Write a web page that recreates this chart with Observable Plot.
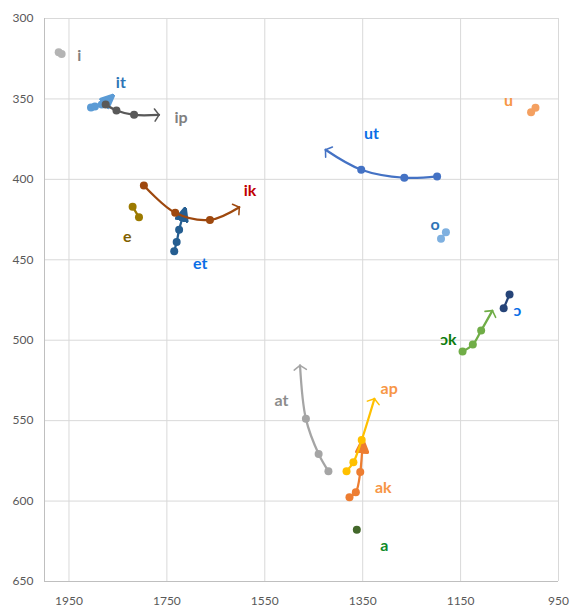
<!DOCTYPE html>
<html>
<head>
<meta charset="utf-8">
<script src="https://cdn.jsdelivr.net/npm/d3@7"></script>
<script src="https://cdn.jsdelivr.net/npm/@observablehq/plot@0.6"></script>
<style>
  html, body { margin: 0; padding: 0; background: #fff; }
  #chart { width: 571px; height: 608px; }
</style>
</head>
<body>
<div id="chart"></div>
<script>
// Axis ticks
const xTicks = [1950, 1750, 1550, 1350, 1150, 950];
const yTicks = [300, 350, 400, 450, 500, 550, 600, 650];

// Series: [F2, F1] points; last point of arrowed series is the arrow tip
const i  = [[1971, 321], [1965, 322]];
const it = [[1905, 355.3], [1897, 354.7], [1883, 353.5], [1860, 348]];
const ip = [[1875, 353.5], [1853, 357.2], [1817, 359.9], [1766, 359.9]];
const ik = [[1797, 403.8], [1733, 420.8], [1662, 425.2], [1602, 417.3]];
const e  = [[1820, 417], [1807, 423.6]];
const et = [[1735, 444.7], [1730, 439], [1725, 431.4], [1713, 418.3]];
const ut = [[1198, 398.2], [1265, 399], [1353, 394], [1426, 381.6]];
const o  = [[1180, 432.9], [1190, 437]];
const u  = [[997, 355.5], [1006, 358.3]];
const oo = [[1050, 471.6], [1062, 480.1]];
const ok = [[1146, 507], [1125, 502.7], [1108, 494], [1085, 481.6]];
const at = [[1420, 581.4], [1440, 570.7], [1466, 548.9], [1478, 515.7]];
const ak = [[1377, 597.6], [1364, 594.5], [1355, 582], [1350, 562.4]];
const ap = [[1383, 581.4], [1369, 575.9], [1352, 562], [1326, 536.4]];
const a  = [[1362, 617.8]];

// Vowel labels
const labelText = ["i", "it", "ip", "ik", "e", "et", "ut", "o", "u", "ɔ", "ɔk", "at", "ap", "ak", "a"];
const labelF2   = [1929, 1844, 1721, 1580, 1831, 1682, 1332, 1202, 1052, 1034, 1175, 1516, 1296, 1308, 1306];
const labelF1   = [323, 339.8, 361.6, 407, 435.6, 452.4, 372, 428, 351, 482, 499.6, 537.6, 530, 591.7, 627.8];
const labelColor = ["#7f7f7f", "#2e75b6", "#808080", "#c00000", "#7f6000", "#0a6ee6", "#0a6ee6", "#2e75b6",
                    "#f79646", "#0a6ee6", "#0e7c0e", "#8c8c8c", "#f79646", "#f79646", "#0e8a2a"];

const SVGNS = "http://www.w3.org/2000/svg";
function filledArrow(color) {
  const m = document.createElementNS(SVGNS, "marker");
  m.setAttribute("viewBox", "-9 -5 10 10");
  m.setAttribute("markerWidth", 6.4);
  m.setAttribute("markerHeight", 6.4);
  m.setAttribute("orient", "auto");
  m.setAttribute("fill", color);
  const p = document.createElementNS(SVGNS, "path");
  p.setAttribute("d", "M-8,-3.8L0.6,0L-8,3.8Z");
  m.appendChild(p);
  return m;
}
function openArrow(color) {
  const m = document.createElementNS(SVGNS, "marker");
  m.setAttribute("viewBox", "-5 -5 10 10");
  m.setAttribute("markerWidth", 6.8);
  m.setAttribute("markerHeight", 6.8);
  m.setAttribute("orient", "auto");
  m.setAttribute("fill", "none");
  m.setAttribute("stroke", color);
  m.setAttribute("stroke-width", 1);
  m.setAttribute("stroke-linecap", "round");
  m.setAttribute("stroke-linejoin", "round");
  const p = document.createElementNS(SVGNS, "path");
  p.setAttribute("d", "M-2.8,-4L0,0L-2.8,4");
  m.appendChild(p);
  return m;
}

// [points, line color, dot color, arrow type]
const series = [
  [i,  "#b4b4b4", "#b4b4b4", null],
  [it, "#5b9bd5", "#5b9bd5", "filled"],
  [ip, "#595959", "#595959", "open"],
  [e,  "#9c7a00", "#9c7a00", null],
  [et, "#255e91", "#255e91", "filled"],
  [ik, "#9e480e", "#9e480e", "open"],
  [ut, "#4472c4", "#4472c4", "open"],
  [o,  "#7eb0e0", "#7eb0e0", null],
  [u,  "#f4a060", "#f4a060", null],
  [oo, "#264478", "#264478", null],
  [ok, "#70ad47", "#70ad47", "open"],
  [at, "#a5a5a5", "#a5a5a5", "open"],
  [ak, "#ed7d31", "#ed7d31", "filled"],
  [ap, "#ffc000", "#ffc000", "open"],
  [a,  "#43682b", "#43682b", null]
];

function build(custom) {
  const marks = [
    Plot.ruleX(xTicks, {stroke: "#d9d9d9", strokeWidth: 1}),
    Plot.ruleY(yTicks, {stroke: "#d9d9d9", strokeWidth: 1}),
    Plot.ruleX([2000], {stroke: "#bfbfbf", strokeWidth: 1}),
    Plot.ruleY([650], {stroke: "#bfbfbf", strokeWidth: 1}),
    Plot.axisX(xTicks, {tickSize: 0, tickPadding: 15, fontSize: 12, fill: "#595959", fontFamily: "Lato", label: null, tickFormat: d => String(d)}),
    Plot.axisY(yTicks, {tickSize: 0, tickPadding: 11, fontSize: 12, fill: "#595959", fontFamily: "Lato", label: null, tickFormat: d => String(d)})
  ];
  for (const [pts, lc, dc, arrow] of series) {
    let markerEnd = undefined;
    if (arrow === "filled") markerEnd = custom ? filledArrow : "arrow";
    if (arrow === "open") markerEnd = custom ? openArrow : "arrow";
    if (pts.length > 1) {
      marks.push(Plot.line(pts, {
        x: d => d[0], y: d => d[1], stroke: lc, strokeWidth: 2.25,
        curve: "catmull-rom", markerEnd
      }));
    }
    const dots = arrow ? pts.slice(0, -1) : pts;
    marks.push(Plot.dot(dots, {x: d => d[0], y: d => d[1], r: 4, fill: dc, stroke: "none"}));
  }
  marks.push(Plot.text(labelText, {
    x: (d, k) => labelF2[k], y: (d, k) => labelF1[k], text: d => d,
    fill: (d, k) => labelColor[k], fontSize: 16, fontWeight: "bold", fontFamily: "Lato"
  }));
  return Plot.plot({
    width: 571,
    height: 608,
    marginLeft: 44,
    marginRight: 13,
    marginTop: 18,
    marginBottom: 27,
    style: {background: "#fff", fontFamily: "Lato"},
    x: {domain: [950, 2000], reverse: true, axis: null},
    y: {domain: [300, 650], reverse: true, axis: null},
    color: {type: "identity"},
    marks
  });
}

let chart;
try { chart = build(true); } catch (err) { chart = build(false); }
document.getElementById("chart").appendChild(chart);
</script>
</body>
</html>
